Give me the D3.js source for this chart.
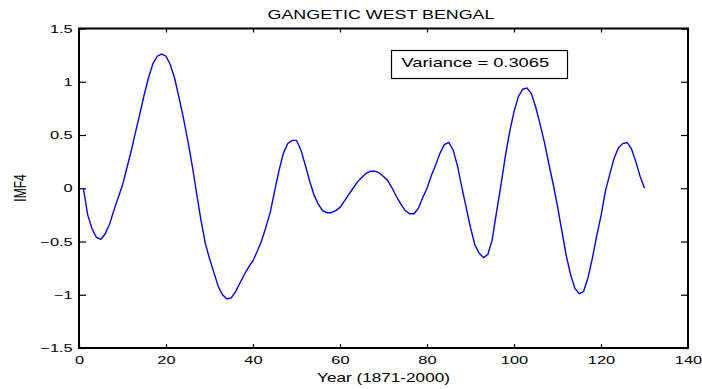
<!DOCTYPE html>
<html>
<head>
<meta charset="utf-8">
<script src="https://cdn.jsdelivr.net/npm/d3@7"></script>
<style>
  body { margin: 0; background: #fff; }
  svg { display: block; }
  text { font-family: "Liberation Sans", Arial, sans-serif; fill: #000; }
</style>
</head>
<body>
<svg id="Chart"></svg>
<script>
// IMF4 values, one per year index 1..130
const years = d3.range(1, 131);
const imf4 = [
  0.00, -0.25, -0.38, -0.46, -0.48, -0.43, -0.34, -0.21, -0.09, 0.03,
  0.19, 0.35, 0.53, 0.70, 0.88, 1.04, 1.17, 1.24, 1.26, 1.24,
  1.16, 1.03, 0.85, 0.66, 0.45, 0.22, -0.04, -0.29, -0.51, -0.66,
  -0.79, -0.92, -1.00, -1.04, -1.03, -0.97, -0.89, -0.81, -0.74, -0.68,
  -0.59, -0.49, -0.36, -0.22, -0.02, 0.17, 0.33, 0.42, 0.45, 0.45,
  0.36, 0.22, 0.07, -0.06, -0.15, -0.21, -0.23, -0.23, -0.21, -0.18,
  -0.12, -0.06, 0.00, 0.06, 0.10, 0.14, 0.16, 0.16, 0.145, 0.11,
  0.07, 0.00, -0.08, -0.15, -0.21, -0.24, -0.24, -0.19, -0.09, 0.00,
  0.12, 0.22, 0.33, 0.41, 0.43, 0.36, 0.21, 0.01, -0.18, -0.37,
  -0.53, -0.61, -0.65, -0.62, -0.48, -0.22, 0.03, 0.30, 0.53, 0.72,
  0.86, 0.93, 0.94, 0.89, 0.76, 0.60, 0.43, 0.23, 0.04, -0.17,
  -0.40, -0.63, -0.81, -0.94, -0.99, -0.97, -0.84, -0.66, -0.45, -0.26,
  -0.03, 0.13, 0.28, 0.38, 0.42, 0.43, 0.37, 0.25, 0.11, 0.00
];
const xTicks = [0, 20, 40, 60, 80, 100, 120, 140];
const yTicks = [-1.5, -1, -0.5, 0, 0.5, 1, 1.5];
const titleText = 'GANGETIC WEST BENGAL';
const xLabel = 'Year (1871-2000)';
const yLabel = 'IMF4';
const varianceText = 'Variance = 0.3065';

// the picture is stretched sideways, so text gets a horizontal scale
const stretch = 1.43;

function getConfig() {
    let width = 702;
    let height = 389;
    let margin = { top: 28.5, left: 79, right: 14, bottom: 41 };
    let bodyWidth = width - margin.left - margin.right;
    let bodyHeight = height - margin.top - margin.bottom;
    let container = d3.select('#Chart')
        .attr('width', width)
        .attr('height', height);
    return { width, height, margin, bodyWidth, bodyHeight, container };
}

function getScales(config) {
    let { margin, bodyWidth, bodyHeight } = config;
    let xScale = d3.scaleLinear()
        .domain([0, 140])
        .range([margin.left, margin.left + bodyWidth]);
    let yScale = d3.scaleLinear()
        .domain([-1.5, 1.5])
        .range([margin.top + bodyHeight, margin.top]);
    return { xScale, yScale };
}

function styleAxis(g, size) {
    g.attr('font-family', '"Liberation Sans", Arial, sans-serif')
        .attr('font-size', size);
    g.select('.domain').remove();
    g.selectAll('line').attr('stroke', '#000').attr('stroke-width', 1.2);
    g.selectAll('text').attr('transform', `scale(${stretch},1)`).attr('fill', '#000');
}

function drawAxes(scales, config) {
    let { xScale, yScale } = scales;
    let { container, margin, bodyWidth, bodyHeight } = config;
    let bottom = margin.top + bodyHeight;
    let right = margin.left + bodyWidth;

    container.append('g')
        .attr('transform', `translate(0,${bottom})`)
        .call(d3.axisBottom(xScale).tickValues(xTicks).tickSizeInner(-4).tickSizeOuter(0).tickPadding(7.5))
        .call(g => styleAxis(g, 11.5));

    container.append('g')
        .attr('transform', `translate(0,${margin.top})`)
        .call(d3.axisTop(xScale).tickValues(xTicks).tickSizeInner(-4).tickSizeOuter(0).tickFormat(''))
        .call(g => styleAxis(g, 11.5));

    container.append('g')
        .attr('transform', `translate(${margin.left},0)`)
        .call(d3.axisLeft(yScale).tickValues(yTicks).tickSizeInner(-7).tickSizeOuter(0).tickPadding(4.4)
            .tickFormat(d3.format('')))
        .call(g => styleAxis(g, 11.5));

    container.append('g')
        .attr('transform', `translate(${right},0)`)
        .call(d3.axisRight(yScale).tickValues(yTicks).tickSizeInner(-7).tickSizeOuter(0).tickFormat(''))
        .call(g => styleAxis(g, 11.5));

    container.append('rect')
        .attr('x', margin.left)
        .attr('y', margin.top)
        .attr('width', bodyWidth)
        .attr('height', bodyHeight)
        .attr('fill', 'none')
        .attr('stroke', '#000')
        .attr('stroke-width', 2);
}

function drawLine(scales, config) {
    let { xScale, yScale } = scales;
    let line = d3.line()
        .x((d, i) => xScale(years[i]))
        .y(d => yScale(d));
    config.container.append('path')
        .datum(imf4)
        .attr('d', line)
        .attr('fill', 'none')
        .attr('stroke', '#0000ff')
        .attr('stroke-width', 1.4);
}

function drawTexts(config) {
    let { container } = config;
    container.append('text')
        .attr('transform', `translate(381,19) scale(${stretch},1)`)
        .attr('text-anchor', 'middle')
        .attr('font-size', 12.5)
        .text(titleText);

    container.append('text')
        .attr('transform', `translate(383.5,382) scale(${stretch},1)`)
        .attr('text-anchor', 'middle')
        .attr('font-size', 12)
        .text(xLabel);

    container.append('text')
        .attr('transform', `translate(26,188) rotate(-90) scale(1,${stretch})`)
        .attr('text-anchor', 'middle')
        .attr('font-size', 12)
        .text(yLabel);

    // variance note box
    container.append('rect')
        .attr('x', 391.5)
        .attr('y', 50.5)
        .attr('width', 176)
        .attr('height', 28)
        .attr('fill', '#fff')
        .attr('stroke', '#000')
        .attr('stroke-width', 1.2);
    container.append('text')
        .attr('transform', `translate(401.5,66.5) scale(${stretch},1)`)
        .attr('font-size', 12.8)
        .text(varianceText);
}

let config = getConfig();
let scales = getScales(config);
drawLine(scales, config);
drawAxes(scales, config);
drawTexts(config);
</script>
</body>
</html>
